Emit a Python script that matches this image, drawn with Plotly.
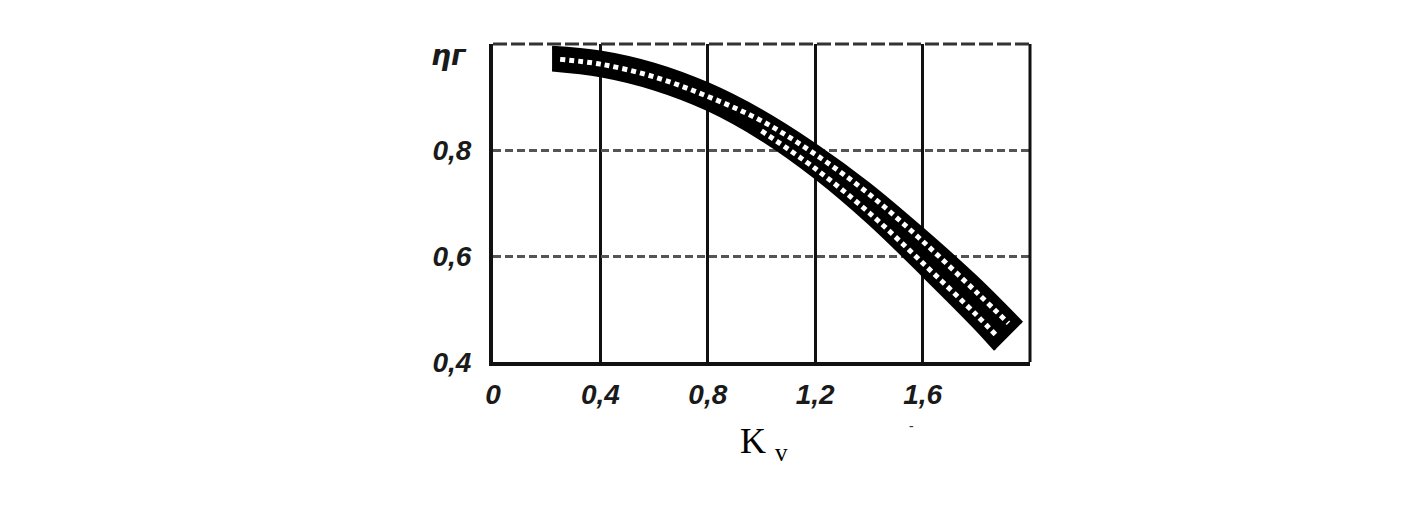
import plotly.graph_objects as go

# Band edges (K_v, eta_r)
upper_k = [0.22, 0.40, 0.60, 0.80, 1.00, 1.20, 1.40, 1.60, 1.80, 1.97]
upper_eta = [0.994, 0.985, 0.962, 0.925, 0.874, 0.810, 0.736, 0.651, 0.560, 0.474]
lower_k = [0.22, 0.40, 0.60, 0.80, 1.00, 1.20, 1.40, 1.60, 1.80, 1.87]
lower_eta = [0.951, 0.940, 0.915, 0.876, 0.820, 0.748, 0.662, 0.564, 0.462, 0.423]
# rows of white dots inside the band
row1_k = [0.25, 0.40, 0.60, 0.80, 1.00, 1.20, 1.40, 1.60, 1.80, 1.92]
row1_eta = [0.971, 0.962, 0.938, 0.901, 0.855, 0.792, 0.717, 0.628, 0.532, 0.473]
row2_k = [1.00, 1.20, 1.40, 1.60, 1.80, 1.88]
row2_eta = [0.836, 0.765, 0.682, 0.587, 0.489, 0.447]

x_ticks = [0, 0.4, 0.8, 1.2, 1.6]
x_ticktext = ["0", "0,4", "0,8", "1,2", "1,6"]
y_ticks = [0.4, 0.6, 0.8]
y_ticktext = ["0,4", "0,6", "0,8"]

tick_font = dict(family="Liberation Sans", size=28, color="#1a1a1a", style="italic", weight="bold")

fig = go.Figure()
fig.add_trace(go.Scatter(x=lower_k, y=lower_eta, mode="lines",
                         line=dict(color="black", width=3, shape="spline"),
                         hoverinfo="skip", showlegend=False))
fig.add_trace(go.Scatter(x=upper_k, y=upper_eta, mode="lines", fill="tonexty",
                         fillcolor="black", line=dict(color="black", width=3, shape="spline"),
                         hoverinfo="skip", showlegend=False))
for rk, re in ((row1_k, row1_eta), (row2_k, row2_eta)):
    fig.add_trace(go.Scatter(x=rk, y=re, mode="lines",
                             line=dict(color="white", width=5, dash="5px,4px", shape="spline"),
                             hoverinfo="skip", showlegend=False))

fig.update_layout(
    width=1428, height=524,
    margin=dict(l=485, r=406, t=36, b=170),
    paper_bgcolor="white", plot_bgcolor="white",
    showlegend=False,
    xaxis=dict(range=[0, 2.0], tickvals=x_ticks, ticktext=x_ticktext, tickfont=tick_font,
               showgrid=True, gridcolor="#111111", gridwidth=3,
               showline=True, linecolor="#111111", linewidth=4,
               ticks="", ticklabelstandoff=4, zeroline=False),
    yaxis=dict(range=[0.4, 1.0], tickvals=y_ticks, ticktext=y_ticktext, tickfont=tick_font,
               showgrid=True, gridcolor="#555555", gridwidth=3, griddash="8px,4px",
               showline=True, linecolor="#111111", linewidth=4,
               ticks="", ticklabelstandoff=12, zeroline=False),
    shapes=[
        dict(type="line", xref="paper", yref="paper", x0=1, x1=1, y0=0, y1=1,
             line=dict(color="#111111", width=3)),
        dict(type="line", xref="paper", yref="paper", x0=0, x1=1, y0=1, y1=1,
             line=dict(color="#333333", width=3, dash="14px,4px")),
    ],
    annotations=[
        dict(text="ηг", xref="paper", yref="paper", x=-0.082, y=0.965,
             xanchor="center", yanchor="middle", showarrow=False,
             font=dict(family="DejaVu Sans", size=28, color="#1a1a1a", style="italic", weight="bold")),
        dict(text="K <sub>v</sub>", xref="paper", yref="paper", x=0.456, y=-0.18,
             xanchor="left", yanchor="top", showarrow=False,
             font=dict(family="Liberation Serif", size=36, color="black")),
        dict(text="-", xref="paper", yref="paper", x=0.78, y=-0.2,
             xanchor="center", yanchor="middle", showarrow=False,
             font=dict(family="Liberation Sans", size=14, color="#333333")),
    ],
)

fig.write_html("out.html")
